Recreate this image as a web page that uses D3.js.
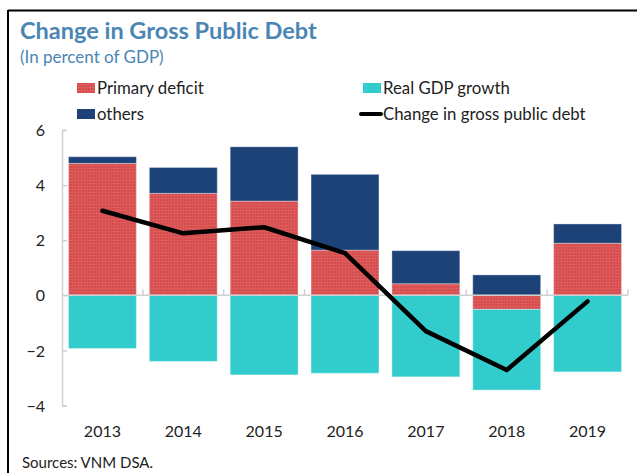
<!DOCTYPE html>
<html>
<head>
<meta charset="utf-8">
<script src="https://cdn.jsdelivr.net/npm/d3@7/dist/d3.min.js"></script>
<style>
  html, body { margin: 0; padding: 0; background: #fff; }
  svg { display: block; font-family: Lato, "Open Sans", sans-serif; }
</style>
</head>
<body>
<svg id="chart" width="637" height="473"></svg>
<script>
// ---- data ----
const years = ["2013", "2014", "2015", "2016", "2017", "2018", "2019"];
const primaryDeficit = [4.79, 3.70, 3.42, 1.64, 0.42, -0.51, 1.89];
const others = [0.24, 0.94, 1.97, 2.75, 1.20, 0.74, 0.70];
const realGdpGrowth = [-1.93, -2.40, -2.89, -2.83, -2.96, -2.93, -2.78];
const changeInDebt = [3.07, 2.25, 2.47, 1.53, -1.30, -2.71, -0.22];
const yTicks = [-4, -2, 0, 2, 4, 6];
const seriesKeys = ["primary", "others", "gdp"];
const seriesLabels = {primary: "Primary deficit", others: "others", gdp: "Real GDP growth", line: "Change in gross public debt"};

// ---- layout ----
const svg = d3.select("#chart");
const x0 = 62, x1 = 628, yTop = 130, yBottom = 405.5;
const colors = {primary: "url(#redPattern)", others: "#1d4278", gdp: "#33cccc"};

const defs = svg.append("defs");
const pat = defs.append("pattern").attr("id", "redPattern").attr("patternUnits", "userSpaceOnUse")
  .attr("width", 3).attr("height", 3);
pat.append("rect").attr("width", 3).attr("height", 3).attr("fill", "#d64c4c");
pat.append("rect").attr("width", 3).attr("height", 1).attr("fill", "#dc5f5f");
pat.append("rect").attr("width", 1).attr("height", 3).attr("fill", "#dc5a5a");

// frame
svg.append("line").attr("x1", 8).attr("x2", 637).attr("y1", 10.5).attr("y2", 10.5)
  .attr("stroke", "#000").attr("stroke-width", 2);
svg.append("line").attr("x1", 8).attr("x2", 8).attr("y1", 10).attr("y2", 473)
  .attr("stroke", "#000").attr("stroke-width", 2);

// titles
svg.append("text").attr("x", 20).attr("y", 39).text("Change in Gross Public Debt")
  .attr("font-size", 23.5).attr("font-weight", "bold").attr("fill", "#4a86b4");
svg.append("text").attr("x", 20).attr("y", 63).text("(In percent of GDP)")
  .attr("font-size", 17).attr("fill", "#4a86b4");

// scales
const x = d3.scaleBand().domain(years).range([x0, x1]).paddingInner(0.16).paddingOuter(0.08);
const y = d3.scaleLinear().domain([-4, 6]).range([yBottom, yTop]);

const rows = years.map((yr, i) => ({year: yr, primary: primaryDeficit[i], others: others[i], gdp: realGdpGrowth[i]}));
const stack = d3.stack().keys(seriesKeys).offset(d3.stackOffsetDiverging);
const stacked = stack(rows);

// y axis
const yAxis = d3.axisRight(y).tickValues(yTicks).tickSize(5).tickFormat(d3.format("d"));
const gy = svg.append("g").attr("transform", `translate(${x0},0)`).call(yAxis);
gy.select(".domain").attr("stroke", "#d0d0d0").attr("stroke-width", 1.5);
gy.selectAll(".tick line").attr("stroke", "#d0d0d0").attr("stroke-width", 1.5);
gy.selectAll(".tick text").attr("x", -17).attr("text-anchor", "end").attr("dy", "0.35em")
  .attr("font-size", 16).attr("fill", "#222").attr("font-family", "Lato, sans-serif");

// bars
svg.append("g").selectAll("g").data(stacked).join("g")
  .attr("fill", d => colors[d.key])
  .selectAll("rect").data(d => d).join("rect")
  .attr("x", d => x(d.data.year))
  .attr("width", x.bandwidth())
  .attr("y", d => y(Math.max(d[0], d[1])))
  .attr("height", d => Math.abs(y(d[0]) - y(d[1])))
  .attr("stroke", "rgba(255,255,255,0.35)").attr("stroke-width", 1);

// x axis along zero with ticks at band boundaries
const step = x.step();
const bounds = d3.range(years.length + 1).map(i => x0 + i * step);
const gx = svg.append("g");
gx.append("line").attr("x1", x0).attr("x2", x1).attr("y1", y(0)).attr("y2", y(0))
  .attr("stroke", "#d0d0d0").attr("stroke-width", 1.5);
gx.selectAll("line.t").data(bounds.slice(1)).join("line").attr("class", "t")
  .attr("x1", d => d).attr("x2", d => d).attr("y1", y(0)).attr("y2", y(0) - 6)
  .attr("stroke", "#d0d0d0").attr("stroke-width", 1.5);

// x labels
const xAxis = d3.axisBottom(x).tickSize(0).tickPadding(0);
const gxl = svg.append("g").attr("transform", `translate(0,${yBottom + 20})`).call(xAxis);
gxl.select(".domain").remove();
gxl.selectAll("text").attr("font-size", 16).attr("fill", "#222").attr("font-family", "Lato, sans-serif");

// line
const line = d3.line().x((d, i) => x(years[i]) + x.bandwidth() / 2).y(d => y(d));
svg.append("path").datum(changeInDebt).attr("d", line)
  .attr("fill", "none").attr("stroke", "#000").attr("stroke-width", 4.5)
  .attr("stroke-linecap", "round").attr("stroke-linejoin", "round");

// legend
const legendItems = [
  {key: "primary", x: 77, y: 88},
  {key: "gdp", x: 363, y: 88},
  {key: "others", x: 77, y: 114},
  {key: "line", x: 363, y: 114}
];
const lg = svg.append("g");
legendItems.forEach(it => {
  if (it.key === "line") {
    lg.append("line").attr("x1", it.x - 2).attr("x2", it.x + 18).attr("y1", it.y).attr("y2", it.y)
      .attr("stroke", "#000").attr("stroke-width", 4).attr("stroke-linecap", "round");
  } else {
    lg.append("rect").attr("x", it.x).attr("y", it.y - 5).attr("width", 18).attr("height", 10)
      .attr("fill", colors[it.key]);
  }
  lg.append("text").attr("x", it.x + 20).attr("y", it.y).attr("dy", "0.35em")
    .attr("font-size", 16.8).attr("fill", "#222").text(seriesLabels[it.key]);
});

// source
svg.append("text").attr("x", 22).attr("y", 468).text("Sources: VNM DSA.")
  .attr("font-size", 15).attr("fill", "#222");
</script>
</body>
</html>
